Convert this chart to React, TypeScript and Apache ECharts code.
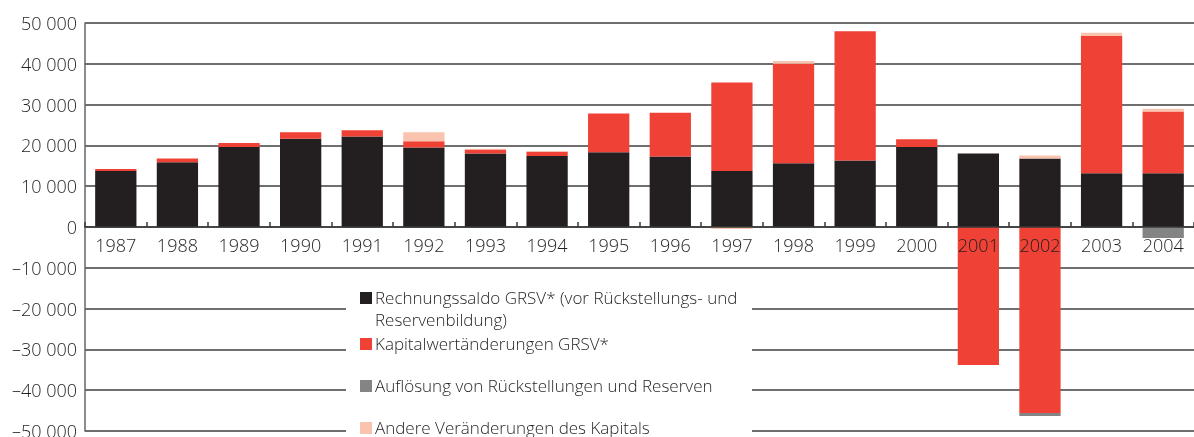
import React, { useEffect, useRef } from "react";
import * as echarts from "echarts";

const years = ["1987","1988","1989","1990","1991","1992","1993","1994","1995","1996","1997","1998","1999","2000","2001","2002","2003","2004"];
const saldo = [13700, 15900, 19600, 21600, 22200, 19500, 18000, 17400, 18300, 17300, 13700, 15600, 16300, 19600, 18000, 16800, 13200, 13200];
const kapitalwert = [500, 900, 1000, 1600, 1500, 1500, 1000, 1000, 9500, 10700, 21700, 24400, 31700, 1900, -33800, -45600, 33600, 15100];
const aufloesung = [0, 0, 0, 0, 0, 0, 0, 0, 0, 0, 0, 0, 0, 0, 0, -700, 0, -2700];
const andere = [0, 0, 0, 0, 0, 2200, 200, 200, 0, 0, -500, 700, 0, 0, 0, 700, 800, 700];

const seriesNames = [
  "Rechnungssaldo GRSV* (vor Rückstellungs- und\nReservenbildung)",
  "Kapitalwertänderungen GRSV*",
  "Auflösung von Rückstellungen und Reserven",
  "Andere Veränderungen des Kapitals",
];
const colors = ["#231f20", "#ef4136", "#848484", "#f9c3ad"];

const FONT = "Open Sans";
const TEXT = "#231f20";

function fmt(v: number): string {
  const s = Math.abs(v).toString().replace(/\B(?=(\d{3})+(?!\d))/g, " ");
  return (v < 0 ? "–" : "") + s;
}

export default function App() {
  const ref = useRef<HTMLDivElement>(null);
  useEffect(() => {
    if (!ref.current) return;
    const chart = echarts.init(ref.current, null, { renderer: "svg" });
    const datasets = [saldo, kapitalwert, aufloesung, andere];
    const legendY = [297, 343, 385, 427];
    const legendGraphics: any[] = [
      { type: "rect", shape: { x: 346, y: 284, width: 406, height: 160 }, style: { fill: "#ffffff" }, z: 10 },
    ];
    seriesNames.forEach((name, i) => {
      legendGraphics.push({
        type: "rect",
        shape: { x: 360, y: legendY[i] - 5, width: 12, height: 12 },
        style: { fill: colors[i] },
        z: 11,
      });
      legendGraphics.push({
        type: "text",
        x: 375,
        y: legendY[i] - 11,
        style: {
          text: name,
          fill: TEXT,
          font: `300 17px "${FONT}"`,
          lineHeight: 22,
          textVerticalAlign: "top",
        },
        z: 11,
      });
    });
    chart.setOption({
      animation: false,
      grid: { left: 85, right: 0, top: 23, bottom: 6, containLabel: false, outerBoundsMode: "none" },
      xAxis: {
        type: "category",
        data: years,
        position: "bottom",
        offset: -204,
        z: 8,
        axisLine: { onZero: false, lineStyle: { color: "#3a3a3a", width: 1.5 } },
        axisTick: { show: true, inside: true, length: 5, lineStyle: { color: "#3a3a3a", width: 1.5 } },
        axisLabel: { color: TEXT, fontSize: 18, fontWeight: 300, fontFamily: FONT, margin: 9 },
      },
      yAxis: {
        type: "value",
        min: -50000,
        max: 50000,
        interval: 10000,
        axisLine: { show: true, lineStyle: { color: "#666666", width: 1.5 } },
        axisTick: { show: false },
        splitLine: { lineStyle: { color: "#3f3f3f", width: 1.5 } },
        axisLabel: { color: TEXT, fontSize: 18, fontWeight: 300, fontFamily: FONT, margin: 8, formatter: (v: number) => fmt(v) },
      },
      series: datasets.map((d, i) => ({
        name: seriesNames[i],
        type: "bar",
        stack: "total",
        data: d,
        barCategoryGap: "33%",
        itemStyle: { color: colors[i] },
        z: 3,
      })),
      graphic: legendGraphics,
    });
    return () => chart.dispose();
  }, []);
  return <div ref={ref} style={{ position: "fixed", left: 0, top: 0, width: 1194, height: 437 }} />;
}
